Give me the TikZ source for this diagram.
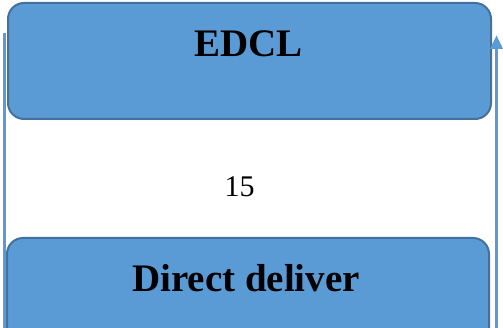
\documentclass[tikz,border=0pt]{standalone}
\usepackage{fontspec}
\setmainfont{Liberation Serif}
\usetikzlibrary{arrows.meta}
\definecolor{boxfill}{HTML}{5B9BD5}
\definecolor{boxedge}{HTML}{41719C}
\definecolor{flow}{HTML}{5B9BD5}
\begin{document}
\begin{tikzpicture}[x=1pt,y=-1pt,
  block/.style={draw=boxedge,line width=2pt,fill=boxfill,rounded corners=16pt},
  flowline/.style={draw=flow,line width=3.5pt},
  title/.style={font=\fontsize{39}{44}\selectfont\bfseries,inner sep=0pt}]
\useasboundingbox (0,0) rectangle (503,328);
\begin{scope}
\clip (0,0) rectangle (503,328);
% upper block
\draw[block] (8,3) rectangle (491,119);
\node[title,anchor=base] (edcl) at (248.5,57) {EDCL};
% lower block, running past the lower edge
\draw[block] (7,238) rectangle (489,380);
\node[title,anchor=base] (direct) at (246,292) {Direct deliver};
% label between blocks
\node[font=\fontsize{30}{34}\selectfont,inner sep=0pt,anchor=base] (count) at (239.5,197) {15};
% side connectors
\coordinate (lefttop) at (4.5,33);
\coordinate (leftbot) at (4.5,330);
\coordinate (rightbot) at (496.5,330);
\coordinate (righttop) at (496.5,35);
\draw[flowline] (leftbot) -- (lefttop);
\draw[flowline,-{Triangle[length=14pt,width=12pt]}] (rightbot) -- (righttop);
\end{scope}
\end{tikzpicture}
\end{document}
